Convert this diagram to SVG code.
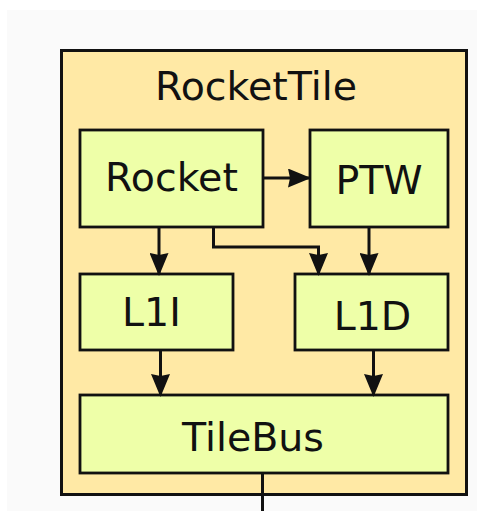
<svg xmlns="http://www.w3.org/2000/svg" width="477" height="511" viewBox="0 0 477 511">
<style>
.bg{fill:#fafafa}
.tile{fill:#ffe9a5;stroke:#111;stroke-width:3}
.box{fill:#eeffa8;stroke:#111;stroke-width:2.8}
text{font-family:"DejaVu Sans",Verdana,sans-serif;font-size:39.5px;fill:#111;text-anchor:middle}
.edge{fill:none;stroke:#111;stroke-width:3}
</style>
<defs>
<marker id="ah" viewBox="0 0 23 19" refX="22" refY="9.5" markerWidth="23" markerHeight="19" markerUnits="userSpaceOnUse" orient="auto">
<path d="M0,0 L23,9.5 L0,19 L2,9.5 Z" fill="#111"/>
</marker>
</defs>
<rect class="bg" x="7" y="10" width="470" height="501"/>
<g id="RocketTile">
<rect class="tile" x="61.5" y="50.5" width="405" height="444"/>
<text x="256" y="100">RocketTile</text>
</g>
<g id="Rocket">
<rect class="box" x="80" y="130" width="183" height="97"/>
<text x="171.5" y="191">Rocket</text>
</g>
<g id="PTW">
<rect class="box" x="310" y="130" width="138" height="97"/>
<text x="379" y="194">PTW</text>
</g>
<g id="L1I">
<rect class="box" x="80" y="274" width="153" height="76"/>
<text x="151.5" y="326">L1I</text>
</g>
<g id="L1D">
<rect class="box" x="295" y="274" width="153" height="76"/>
<text x="372.5" y="329.5">L1D</text>
</g>
<g id="TileBus">
<rect class="box" x="80" y="395" width="368" height="78"/>
<text x="253" y="451">TileBus</text>
</g>
<g id="connectors">
<path class="edge" d="M263,178 H310" marker-end="url(#ah)"/>
<path class="edge" d="M159,227 V275" marker-end="url(#ah)"/>
<path class="edge" d="M213.5,227 V247 H318.5 V275" marker-end="url(#ah)"/>
<path class="edge" d="M369,227 V275" marker-end="url(#ah)"/>
<path class="edge" d="M160.5,350 V396" marker-end="url(#ah)"/>
<path class="edge" d="M373.5,350 V396" marker-end="url(#ah)"/>
<path class="edge" d="M262.5,473 V511"/>
</g>
</svg>
